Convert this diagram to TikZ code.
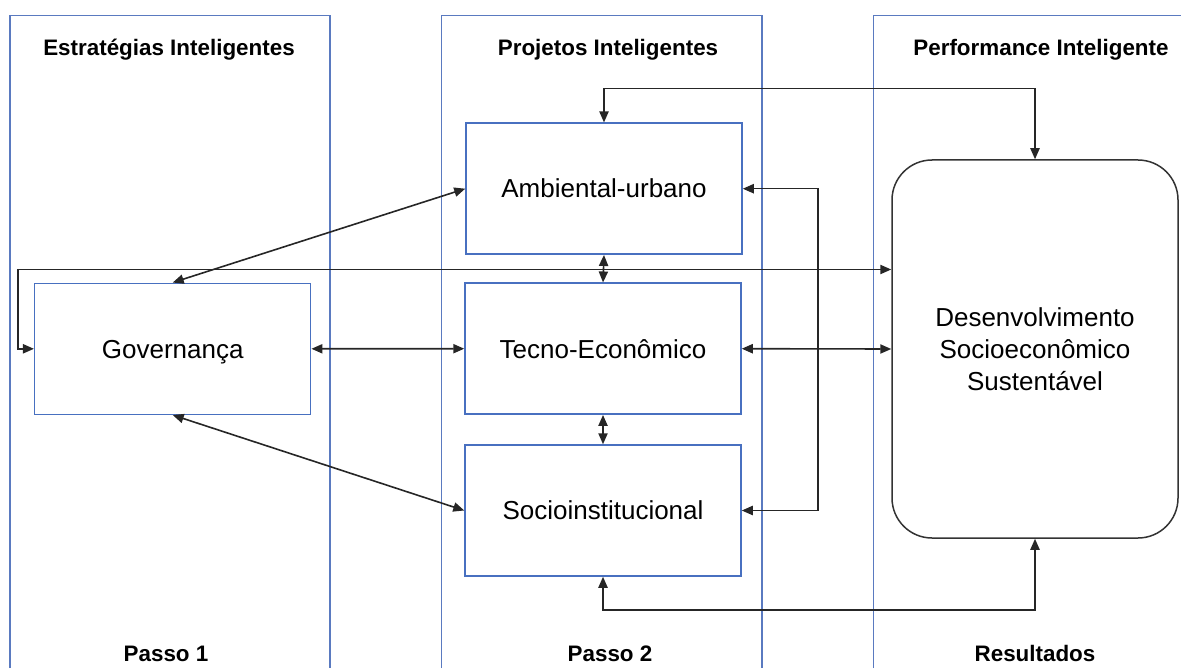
\documentclass[tikz,border=0pt]{standalone}
\usepackage{fontspec}
\setmainfont{Liberation Sans}
\usetikzlibrary{arrows.meta}
\definecolor{colblue}{RGB}{90,122,192}
\definecolor{boxblue}{RGB}{72,112,192}
\tikzset{
  colframe/.style={draw=colblue, line width=0.7pt},
  hdr/.style={font=\fontsize{11.2pt}{13pt}\selectfont\bfseries, anchor=base, inner sep=0pt},
  pbox/.style={draw=boxblue, line width=0.75pt, rectangle, minimum width=138pt, minimum height=65.5pt,
     font=\fontsize{13pt}{16pt}\selectfont, text height=9.3pt, text depth=0pt, inner sep=0pt},
  devbox/.style={draw=black!80, line width=0.75pt, rectangle, rounded corners=20pt, minimum width=143pt,
     minimum height=189pt, font=\fontsize{13pt}{16pt}\selectfont, align=center, inner sep=0pt},
  link/.style={draw=black!85, line width=0.8pt, {Triangle[length=5.5pt,width=4.6pt]}-{Triangle[length=5.5pt,width=4.6pt]}}
}
\begin{document}
\begin{tikzpicture}[x=0.5pt,y=-0.5pt]
\useasboundingbox (0,0) rectangle (1181,668);
% column frames
\draw[colframe] (10,668) -- (10,15.7) -- (330,15.7) -- (330,668);
\draw[colframe] (441.7,668) -- (441.7,15.7) -- (762,15.7) -- (762,668);
\draw[colframe] (873.3,668) -- (873.3,15.7) -- (1181,15.7);
% headers
\node[hdr] (h1) at (169,56) {Estratégias Inteligentes};
\node[hdr] (h2) at (608,56) {Projetos Inteligentes};
\node[hdr] (h3) at (1041,56) {Performance Inteligente};
\node[hdr] (f1) at (166,661.5) {Passo 1};
\node[hdr] (f2) at (610,661.5) {Passo 2};
\node[hdr] (f3) at (1035,661.5) {Resultados};
% boxes
\node[pbox] (gov) at (172.7,348.8) {Governança};
\node[pbox] (amb) at (604,188.7) {Ambiental-urbano};
\node[pbox] (tec) at (603,348.7) {Tecno-Econômico};
\node[pbox] (soc) at (603,510.5) {Socioinstitucional};
\node[devbox] (dev) at (1035,349) {Desenvolvimento\\Socioeconômico\\Sustentável};
% connectors
\coordinate (lt) at (18,269.5);
\draw[link] (amb.north) -- ++(0,-34) -| (dev.north);
\draw[link] (gov.west) -| (lt) -- (lt -| dev.west);
\draw[link] (gov.east) -- (tec.west);
\draw[link] (tec.east) -- (dev.west);
\draw[link] (gov.north) -- (amb.west);
\draw[link] (gov.south) -- (soc.west);
\draw[link] (amb.south) -- (tec.north);
\draw[link] (tec.south) -- (soc.north);
\draw[link] (amb.east) -- ++(75,0) |- (soc.east);
\draw[link] (soc.south) -- ++(0,33) -| (dev.south);
\end{tikzpicture}
\end{document}
